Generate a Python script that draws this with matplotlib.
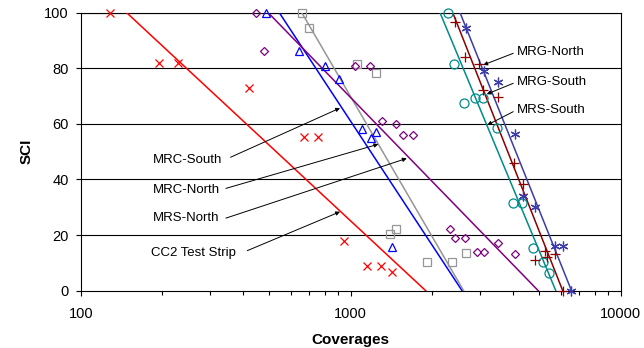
import numpy as np
import matplotlib
matplotlib.use('Agg')
import matplotlib.pyplot as plt

plt.rcParams['font.family'] = ['Liberation Sans', 'DejaVu Sans']

# CC2 Test Strip (red x)
cc2_cov = [128, 195, 230, 420, 673, 755, 946, 1148, 1294, 1418]
cc2_sci = [100, 82.0, 82.0, 72.9, 55.2, 55.2, 18.0, 9.0, 9.0, 6.8]
cc2_fit = [148, 1896]

# MRC-South (blue triangles)
mrc_s_cov = [485, 646, 805, 907, 1104, 1238, 1186, 1422]
mrc_s_sci = [100, 86.3, 81.0, 76.1, 58.1, 57.2, 55.1, 15.8]
mrc_s_fit = [544, 2585]

# MRC-North (gray squares)
mrc_n_cov = [659, 703, 1057, 1238, 1400, 1473, 1910, 2365, 2673]
mrc_n_sci = [100, 94.4, 81.5, 78.2, 20.3, 22.3, 10.4, 10.4, 13.5]
mrc_n_fit = [659, 2620]

# MRS-North (purple diamonds)
mrs_n_cov = [446, 478, 1038, 1179, 1302, 1468, 1559, 1708, 2333, 2434, 2650, 2929, 3118, 3523, 4074]
mrs_n_sci = [100, 86.3, 81.0, 81.0, 61.1, 60.0, 56.1, 56.1, 22.2, 19.1, 19.1, 14.0, 14.0, 17.1, 13.1]
mrs_n_fit = [495, 4950]

# MRS-South (teal circles)
mrs_s_cov = [2299, 2415, 2637, 2887, 3099, 3473, 4003, 4322, 4747, 5169, 5422]
mrs_s_sci = [100, 81.5, 67.4, 69.2, 69.2, 58.4, 31.4, 31.4, 15.3, 10.4, 6.3]
mrs_s_fit = [2142, 5750]

# MRG-South (dark red +)
mrg_s_cov = [2432, 2649, 2985, 3099, 3524, 4029, 4338, 4820, 5248, 5324, 5718, 6100]
mrg_s_sci = [96.8, 84.2, 81.5, 72.2, 69.8, 46.1, 38.3, 11.0, 14.4, 12.2, 13.2, 0]
mrg_s_fit = [2388, 6100]

# MRG-North (slate blue asterisks)
mrg_n_cov = [2667, 3118, 3523, 4074, 4359, 4826, 5718, 6128, 6573]
mrg_n_sci = [94.4, 79.1, 75.2, 56.3, 34.1, 30.2, 16.1, 16.1, 0]
mrg_n_fit = [2541, 6573]

fit_sci = [100, 0]

fig = plt.figure(figsize=(6.44, 3.48), dpi=100)
ax = fig.add_axes([0.1253, 0.1647, 0.8385, 0.7988])

ax.set_xscale('log')
ax.set_xlim(100, 10000)
ax.set_ylim(0, 100)

for y in [20, 40, 60, 80, 100]:
    ax.axhline(y, color='black', lw=0.8, zorder=1)

series = [
    (cc2_cov, cc2_sci, cc2_fit, '#FF0000', 'x', 5.5),
    (mrc_s_cov, mrc_s_sci, mrc_s_fit, '#0000FF', '^', 6),
    (mrc_n_cov, mrc_n_sci, mrc_n_fit, '#969696', 's', 5.5),
    (mrs_n_cov, mrs_n_sci, mrs_n_fit, '#800080', 'D', 4.5),
    (mrs_s_cov, mrs_s_sci, mrs_s_fit, '#008B8B', 'o', 6.5),
    (mrg_s_cov, mrg_s_sci, mrg_s_fit, '#8B0000', '+', 7),
    (mrg_n_cov, mrg_n_sci, mrg_n_fit, '#3C3CAA', (6, 2, 0), 7),
]

for cov, sci, fit, col, mk, ms in series:
    ax.plot(fit, fit_sci, color=col, lw=1.1, zorder=3, clip_on=True)
    ax.plot(cov, sci, ls='none', marker=mk, ms=ms, mfc='none', mec=col,
            mew=0.9, zorder=4, clip_on=False)

arrow = dict(arrowstyle='-|>', color='black', lw=0.7, mutation_scale=6,
             shrinkA=0, shrinkB=0)

# left-side labels
ax.text(185, 47.0, 'MRC-South', fontsize=9.5, va='center', ha='left')
ax.annotate('', xy=(913, 65.7), xytext=(359, 48.0), arrowprops=arrow)
ax.text(185, 36.2, 'MRC-North', fontsize=9.5, va='center', ha='left')
ax.annotate('', xy=(1266, 52.7), xytext=(345, 36.8), arrowprops=arrow)
ax.text(185, 26.1, 'MRS-North', fontsize=9.5, va='center', ha='left')
ax.annotate('', xy=(1613, 47.6), xytext=(345, 26.1), arrowprops=arrow)
ax.text(181.5, 13.5, 'CC2 Test Strip', fontsize=9.5, va='center', ha='left')
ax.annotate('', xy=(913, 28.4), xytext=(414, 14.4), arrowprops=arrow)

# right-side labels
ax.text(4120, 86.0, 'MRG-North', fontsize=9.5, va='center', ha='left')
ax.annotate('', xy=(3098, 81.2), xytext=(4000, 85.4), arrowprops=arrow)
ax.text(4120, 75.2, 'MRG-South', fontsize=9.5, va='center', ha='left')
ax.annotate('', xy=(3190, 70.7), xytext=(4000, 74.6), arrowprops=arrow)
ax.text(4120, 65.0, 'MRS-South', fontsize=9.5, va='center', ha='left')
ax.annotate('', xy=(3206, 59.6), xytext=(4000, 64.4), arrowprops=arrow)

ax.set_yticks([0, 20, 40, 60, 80, 100])
ax.set_xticks([100, 1000, 10000])
ax.set_xticklabels(['100', '1000', '10000'])
ax.tick_params(axis='both', which='major', direction='out', length=3.5,
               width=0.8, labelsize=10.5, color='black')
ax.tick_params(axis='x', which='major', pad=8.5)
ax.tick_params(axis='x', which='minor', direction='out', length=3, width=0.8)
ax.tick_params(axis='y', which='major', pad=5)

for sp in ax.spines.values():
    sp.set_color('black')
    sp.set_linewidth(0.8)

ax.set_xlabel('Coverages', fontsize=11, fontweight='bold', labelpad=8.5)
ax.set_ylabel('SCI', fontsize=11, fontweight='bold', labelpad=8)

fig.savefig('out.png', dpi=100)
